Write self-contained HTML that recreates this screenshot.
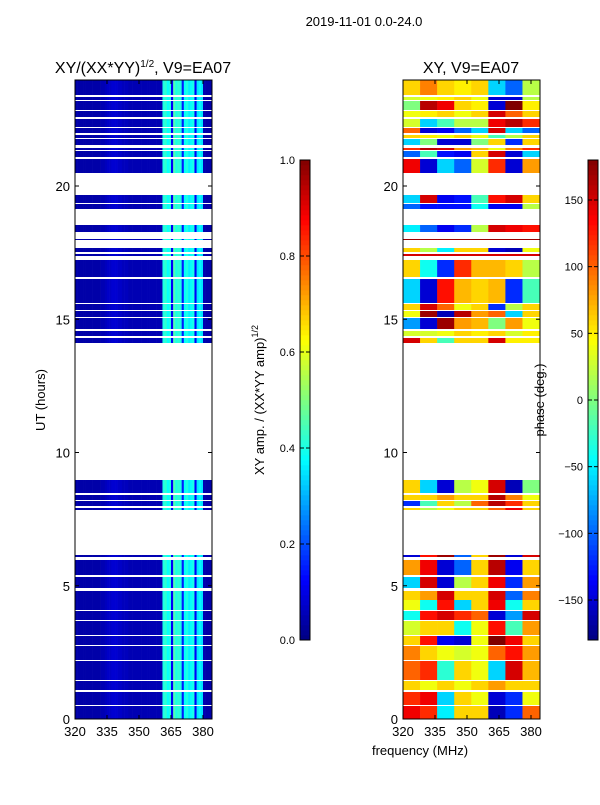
<!DOCTYPE html>
<html><head><meta charset="utf-8"><style>
body{margin:0;background:#fff;width:600px;height:800px;overflow:hidden}
svg text{font-family:"Liberation Sans",sans-serif;fill:#000}
</style></head><body>
<svg id="fig" width="600" height="800" xmlns="http://www.w3.org/2000/svg">
<rect width="600" height="800" fill="#fff"/>
<text x="364" y="26" font-size="13" text-anchor="middle">2019-11-01 0.0-24.0</text>
<text x="143" y="73" font-size="16" text-anchor="middle">XY/(XX*YY)<tspan font-size="10" dy="-6">1/2</tspan><tspan dy="6">, V9=EA07</tspan></text>
<text x="471" y="73" font-size="16" text-anchor="middle">XY, V9=EA07</text>
<g id="ampPanel"></g>
<g id="phasePanel"></g>
<g id="axes"></g>
<text transform="translate(45,400) rotate(-90)" font-size="13" text-anchor="middle">UT (hours)</text>
<text x="420" y="755" font-size="13" text-anchor="middle">frequency (MHz)</text>
<text transform="translate(264,400) rotate(-90)" font-size="13" text-anchor="middle">XY amp. / (XX*YY amp)<tspan font-size="9" dy="-6">1/2</tspan></text>
<text transform="translate(544,400) rotate(-90)" font-size="13" text-anchor="middle">phase (deg.)</text>
</svg>
<script>
const blocks=[[80,95],[97,100],[101,110],[111,117],[119,127],[128,133],[135,138],[139,145],[148,150],[151,157],[159,173],[195,203],[204,209],[225,232],[239,240],[248,252],[254,256],[260,277],[279,303],[304,310],[311,317],[318,329],[331,336],[338,343],[480,493],[495,500],[501,506],[508,510],[555,557],[560,575],[577,588],[591,600],[600,610],[611,620],[621,635],[636,645],[646,660],[661,680],[681,690],[692,705],[706,719]];
const phaseBands=[[60,90,60,50,60,-60,-100,20],[30,40,50,60,40,-150,-150,20],[0,160,140,60,50,-150,180,50],[40,50,60,40,60,150,100,60],[30,-60,-20,20,20,140,160,120],[100,-150,-140,-100,-60,150,-60,-100],[60,50,40,60,40,-20,20,60],[-60,0,-150,-150,0,60,-120,60],[120,160,150,80,70,40,90,120],[-100,-20,-130,-140,60,150,-150,-60],[140,-150,-60,-100,30,120,-150,80],[-60,150,-140,-130,-20,130,150,60],[-100,-130,-130,-130,-40,-140,-140,20],[-50,-100,-140,-120,20,150,140,130],[170,170,170,170,170,170,170,170],[60,20,-50,60,60,-150,-160,40],[150,150,150,150,150,150,150,150],[60,-40,-120,120,70,70,60,20],[-60,-150,130,70,60,70,-120,-20],[60,150,100,40,60,-120,20,60],[40,170,-160,160,80,100,-60,60],[-80,-150,170,80,70,0,80,40],[30,30,40,60,50,60,30,50],[150,60,-20,60,60,150,50,50],[60,-60,-150,20,40,150,-160,0],[60,60,80,60,60,160,90,40],[-120,-20,60,20,100,160,120,60],[60,20,40,60,60,100,140,60],[-150,130,170,-100,60,170,-150,150],[80,140,-150,-100,60,160,-140,60],[-60,150,-150,20,60,140,-120,80],[60,80,150,60,60,150,-100,90],[40,-40,130,-60,60,140,-40,60],[-40,130,150,120,100,-150,-80,150],[30,60,60,-40,40,130,-20,80],[60,130,-140,-150,40,180,140,60],[90,60,40,30,40,100,130,80],[100,120,-30,60,40,-60,150,70],[60,40,60,40,60,80,60,60],[120,140,-60,60,40,-150,-120,40],[140,120,-50,60,60,-160,-120,100]];
const ampByChannel=[0.04,0.04,0.04,0.04,0.04,0.04,0.04,0.04,0.04,0.04,0.04,0.04,0.05,0.05,0.06,0.07,0.07,0.08,0.08,0.08,0.07,0.07,0.06,0.06,0.06,0.05,0.05,0.05,0.05,0.05,0.05,0.05,0.05,0.05,0.05,0.05,0.05,0.05,0.05,0.05,0.05,0.4,0.42,0.38,0.4,0.12,0.45,0.4,0.42,0.4,0.15,0.38,0.4,0.36,0.38,0.4,0.12,0.35,0.37,0.35,0.05,0.04,0.04,0.04];
const yTicks=[0,5,10,15,20];
const xTicks=[320,335,350,365,380];
const ampTicks=[0.0,0.2,0.4,0.6,0.8,1.0];
const phaseTicks=[-150,-100,-50,0,50,100,150];

const NS="http://www.w3.org/2000/svg";
function jet(v){v=Math.max(0,Math.min(1,v));
 const r=Math.max(0,Math.min(1,1.5-Math.abs(4*v-3)));
 const g=Math.max(0,Math.min(1,1.5-Math.abs(4*v-2)));
 const b=Math.max(0,Math.min(1,1.5-Math.abs(4*v-1)));
 return `rgb(${Math.round(r*255)},${Math.round(g*255)},${Math.round(b*255)})`;}
function mk(tag,attrs,parent){const e=document.createElementNS(NS,tag);for(const k in attrs)e.setAttribute(k,attrs[k]);parent.appendChild(e);return e;}
const fx=f=>(f-320)*(32/15);
const hy=h=>719-h*26.65;
const pv=p=>640-(p+180)/360*480;
const av=a=>640-a*480;

const amp=document.getElementById('ampPanel'),ph=document.getElementById('phasePanel'),ax=document.getElementById('axes');
blocks.forEach((b,i)=>{
 for(let c=0;c<ampByChannel.length;c++){
  const r=mk('rect',{x:75+fx(320+c),y:b[0],width:fx(321)-fx(320)+0.3,height:b[1]-b[0],fill:jet(ampByChannel[c])},amp);
  
  
 }
 phaseBands[i].forEach((p,k)=>{
  const r=mk('rect',{x:403+fx(320+8*k),y:b[0],width:fx(328)-fx(320)+0.3,height:b[1]-b[0],fill:jet((p+180)/360)},ph);
  
  
 });
});
[[75,'amp'],[403,'phase']].forEach(([x0,n])=>{
 mk('rect',{x:x0,y:80,width:137,height:639,fill:'none',stroke:'#000','stroke-width':1},ax);
 yTicks.forEach(t=>{const y=hy(t);
  mk('line',{x1:x0,x2:x0+4,y1:y,y2:y,stroke:'#000'},ax);mk('line',{x1:x0+137,x2:x0+133,y1:y,y2:y,stroke:'#000'},ax);
  const tx=mk('text',{x:x0-5,y:y+5,'font-size':13,'text-anchor':'end'},ax);tx.textContent=t;
  
  });
 xTicks.forEach(t=>{const x=x0+fx(t);
  mk('line',{x1:x,x2:x,y1:719,y2:715,stroke:'#000'},ax);mk('line',{x1:x,x2:x,y1:80,y2:84,stroke:'#000'},ax);
  const tx=mk('text',{x:x,y:736,'font-size':13,'text-anchor':'middle'},ax);tx.textContent=t;
  
  });
});
function colorbar(x0,ticks,posFn,fmt,name){
 const g=mk('g',{},ax);
 for(let i=0;i<96;i++)mk('rect',{x:x0,y:640-(i+1)*5,width:10,height:5.3,fill:jet((i+0.5)/96)},g);
 mk('rect',{x:x0,y:160,width:10,height:480,fill:'none',stroke:'#000'},g);
 ticks.forEach(t=>{const y=posFn(t);mk('line',{x1:x0,x2:x0+4,y1:y,y2:y,stroke:'#000'},g);mk('line',{x1:x0+10,x2:x0+6,y1:y,y2:y,stroke:'#000'},g);
  const tx=mk('text',{x:x0-5,y:y+4,'font-size':11,'text-anchor':'end'},g);tx.textContent=fmt(t);
  
  });
}
colorbar(300,ampTicks,av,t=>t.toFixed(1),'amp-colorbar');
colorbar(588,phaseTicks,pv,t=>t<0?'\u2212'+(-t):String(t),'phase-colorbar');
</script>
</body></html>
